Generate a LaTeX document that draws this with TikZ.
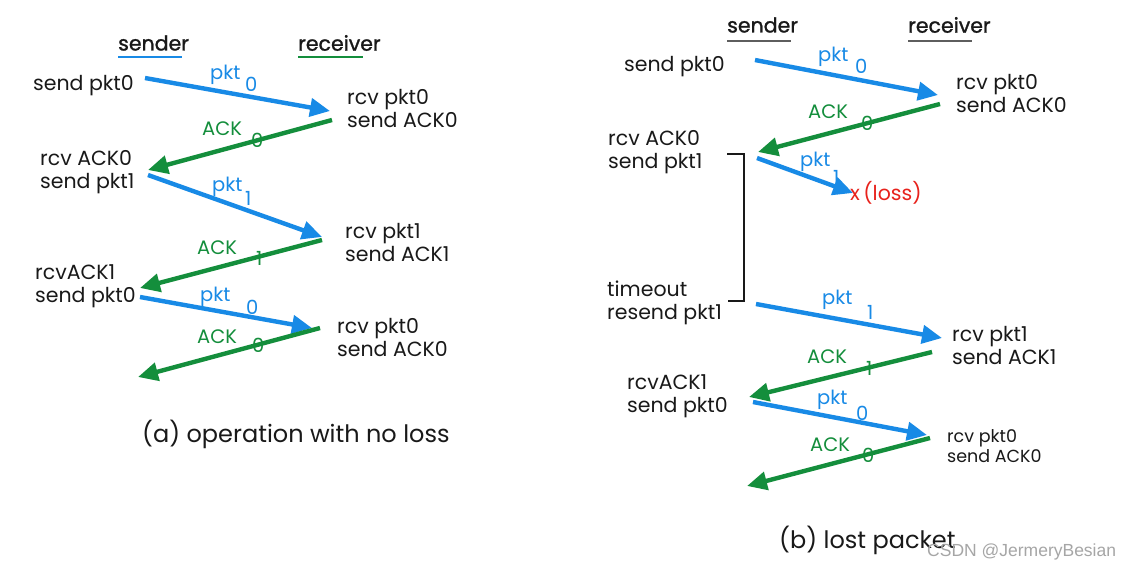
\documentclass[tikz,border=0pt]{standalone}
\usepackage{fontspec}
\setmainfont{Poppins}
\newfontfamily\hdfont{Poppins}[FakeBold=1.2]
\newfontfamily\wmfont{Liberation Sans}
\usetikzlibrary{arrows.meta}
\definecolor{pblue}{RGB}{24,138,230}
\definecolor{agreen}{RGB}{20,142,60}
\definecolor{lossred}{RGB}{232,34,28}
\definecolor{ink}{RGB}{25,25,25}
\begin{document}
\begin{tikzpicture}[x=1pt,y=-1pt,
  txt/.style={anchor=west,inner sep=0pt,align=left,text=ink,font=\fontsize{20.5}{23}\selectfont},
  smalltxt/.style={txt,font=\fontsize{17.5}{19.5}\selectfont},
  head/.style={anchor=west,inner sep=0pt,text=ink,font=\hdfont\fontsize{20.5}{23}\selectfont},
  title/.style={anchor=west,inner sep=0pt,text=ink,font=\fontsize{24}{28}\selectfont},
  plbl/.style={anchor=west,inner sep=0pt,text=pblue,font=\fontsize{19.5}{22}\selectfont},
  albl/.style={anchor=west,inner sep=0pt,text=agreen,font=\fontsize{19.5}{22}\selectfont},
  pkarrow/.style={draw=pblue,line width=4.4pt,-{Triangle[length=20pt,width=18pt]}},
  ackarrow/.style={draw=agreen,line width=4.4pt,-{Triangle[length=20pt,width=18pt]}},
  ulblue/.style={draw=pblue,line width=2.8pt},
  ulgreen/.style={draw=agreen,line width=2.8pt},
  ulgray/.style={draw=ink!70,line width=1.2pt},
  bracket/.style={draw=ink,line width=2.6pt}
]
\useasboundingbox[fill=white] (0,0) rectangle (1132,571);

% ================= (a) =================
\node[head] (aS) at (118,43) {sender};
\node[head] (aR) at (298,43) {receiver};
\coordinate (aSu1) at (118,57); \coordinate (aSu2) at (182,57);
\coordinate (aRu1) at (298,57); \coordinate (aRu2) at (363,57);
\draw[ulblue] (aSu1) -- (aSu2);
\draw[ulgreen] (aRu1) -- (aRu2);

\node[txt] (as1) at (33,86) {send pkt0};
\node[txt] (ar1) at (347,109) {rcv pkt0\\send ACK0};
\node[txt] (as2) at (40,172) {rcv ACK0\\send pkt1};
\node[txt] (ar2) at (345,243) {rcv pkt1\\send ACK1};
\node[txt] (as3) at (35,286) {rcvACK1\\send pkt0};
\node[txt] (ar3) at (337,337) {rcv pkt0\\send ACK0};

\coordinate (a1s) at (145,78);  \coordinate (a1e) at (330,111);
\coordinate (a2s) at (332,120); \coordinate (a2e) at (148,170);
\coordinate (a3s) at (148,175); \coordinate (a3e) at (322,237);
\coordinate (a4s) at (322,240); \coordinate (a4e) at (140,288);
\coordinate (a5s) at (140,297); \coordinate (a5e) at (312,328);
\coordinate (a6s) at (320,328); \coordinate (a6e) at (138,377);
\draw[pkarrow] (a1s) -- (a1e);
\draw[ackarrow] (a2s) -- (a2e);
\draw[pkarrow] (a3s) -- (a3e);
\draw[ackarrow] (a4s) -- (a4e);
\draw[pkarrow] (a5s) -- (a5e);
\draw[ackarrow] (a6s) -- (a6e);

\node[plbl] (al1) at (210,75) {pkt};  \node[plbl] (al1n) at (245,84) {0};
\node[albl] (al2) at (202,129) {ACK}; \node[albl] (al2n) at (251,140) {0};
\node[plbl] (al3) at (212,187) {pkt}; \node[plbl] (al3n) at (245,198) {1};
\node[albl] (al4) at (197,248) {ACK}; \node[albl] (al4n) at (256,258) {1};
\node[plbl] (al5) at (200,297) {pkt}; \node[plbl] (al5n) at (246,307) {0};
\node[albl] (al6) at (197,337) {ACK}; \node[albl] (al6n) at (252,345) {0};

\node[title] (atitle) at (142,434) {(a) operation with no loss};

% ================= (b) =================
\node[head] (bS) at (727,25) {sender};
\node[head] (bR) at (908,25) {receiver};
\coordinate (bSu1) at (727,41); \coordinate (bSu2) at (791,41);
\coordinate (bRu1) at (908,41); \coordinate (bRu2) at (972,41);
\draw[ulgray] (bSu1) -- (bSu2);
\draw[ulgray] (bRu1) -- (bRu2);

\node[txt] (bs1) at (624,67) {send pkt0};
\node[txt] (br1) at (956,94) {rcv pkt0\\send ACK0};
\node[txt] (bs2) at (608,152) {rcv ACK0\\send pkt1};
\node[txt] (bto) at (607,303) {timeout\\resend pkt1};
\node[txt] (br2) at (952,345) {rcv pkt1\\send ACK1};
\node[txt] (bs3) at (627,396) {rcvACK1\\send pkt0};
\node[smalltxt] (br3) at (947,446) {rcv pkt0\\send ACK0};
\node[anchor=west,inner sep=0pt,text=lossred,font=\fontsize{20.5}{23}\selectfont] (loss) at (850,193) {x\,(loss)};

\coordinate (bk1) at (727,154); \coordinate (bk2) at (744,154);
\coordinate (bk3) at (744,301); \coordinate (bk4) at (728,301);
\draw[bracket] (bk1) -- (bk2) -- (bk3) -- (bk4);

\coordinate (b1s) at (755,60);  \coordinate (b1e) at (938,95);
\coordinate (b2s) at (940,104); \coordinate (b2e) at (758,152);
\coordinate (b3s) at (757,158); \coordinate (b3e) at (853,193);
\coordinate (b4s) at (756,304); \coordinate (b4e) at (942,338);
\coordinate (b5s) at (932,352); \coordinate (b5e) at (749,397);
\coordinate (b6s) at (753,402); \coordinate (b6e) at (927,435);
\coordinate (b7s) at (930,438); \coordinate (b7e) at (747,486);
\draw[pkarrow] (b1s) -- (b1e);
\draw[ackarrow] (b2s) -- (b2e);
\draw[pkarrow] (b3s) -- (b3e);
\draw[pkarrow] (b4s) -- (b4e);
\draw[ackarrow] (b5s) -- (b5e);
\draw[pkarrow] (b6s) -- (b6e);
\draw[ackarrow] (b7s) -- (b7e);

\node[plbl] (bl1) at (818,57) {pkt};  \node[plbl] (bl1n) at (855,66) {0};
\node[albl] (bl2) at (808,112) {ACK}; \node[albl] (bl2n) at (861,123) {0};
\node[plbl] (bl3) at (800,162) {pkt}; \node[plbl] (bl3n) at (833,177) {1};
\node[plbl] (bl4) at (822,300) {pkt}; \node[plbl] (bl4n) at (867,312) {1};
\node[albl] (bl5) at (807,357) {ACK}; \node[albl] (bl5n) at (866,368) {1};
\node[plbl] (bl6) at (817,400) {pkt}; \node[plbl] (bl6n) at (856,413) {0};
\node[albl] (bl7) at (810,445) {ACK}; \node[albl] (bl7n) at (862,455) {0};

\node[title] (btitle) at (779,540) {(b) lost packet};
\node[anchor=west,inner sep=0pt,text=black!35,font=\wmfont\fontsize{17.5}{20}\selectfont] (wm) at (927,552) {CSDN @JermeryBesian};
\end{tikzpicture}
\end{document}
